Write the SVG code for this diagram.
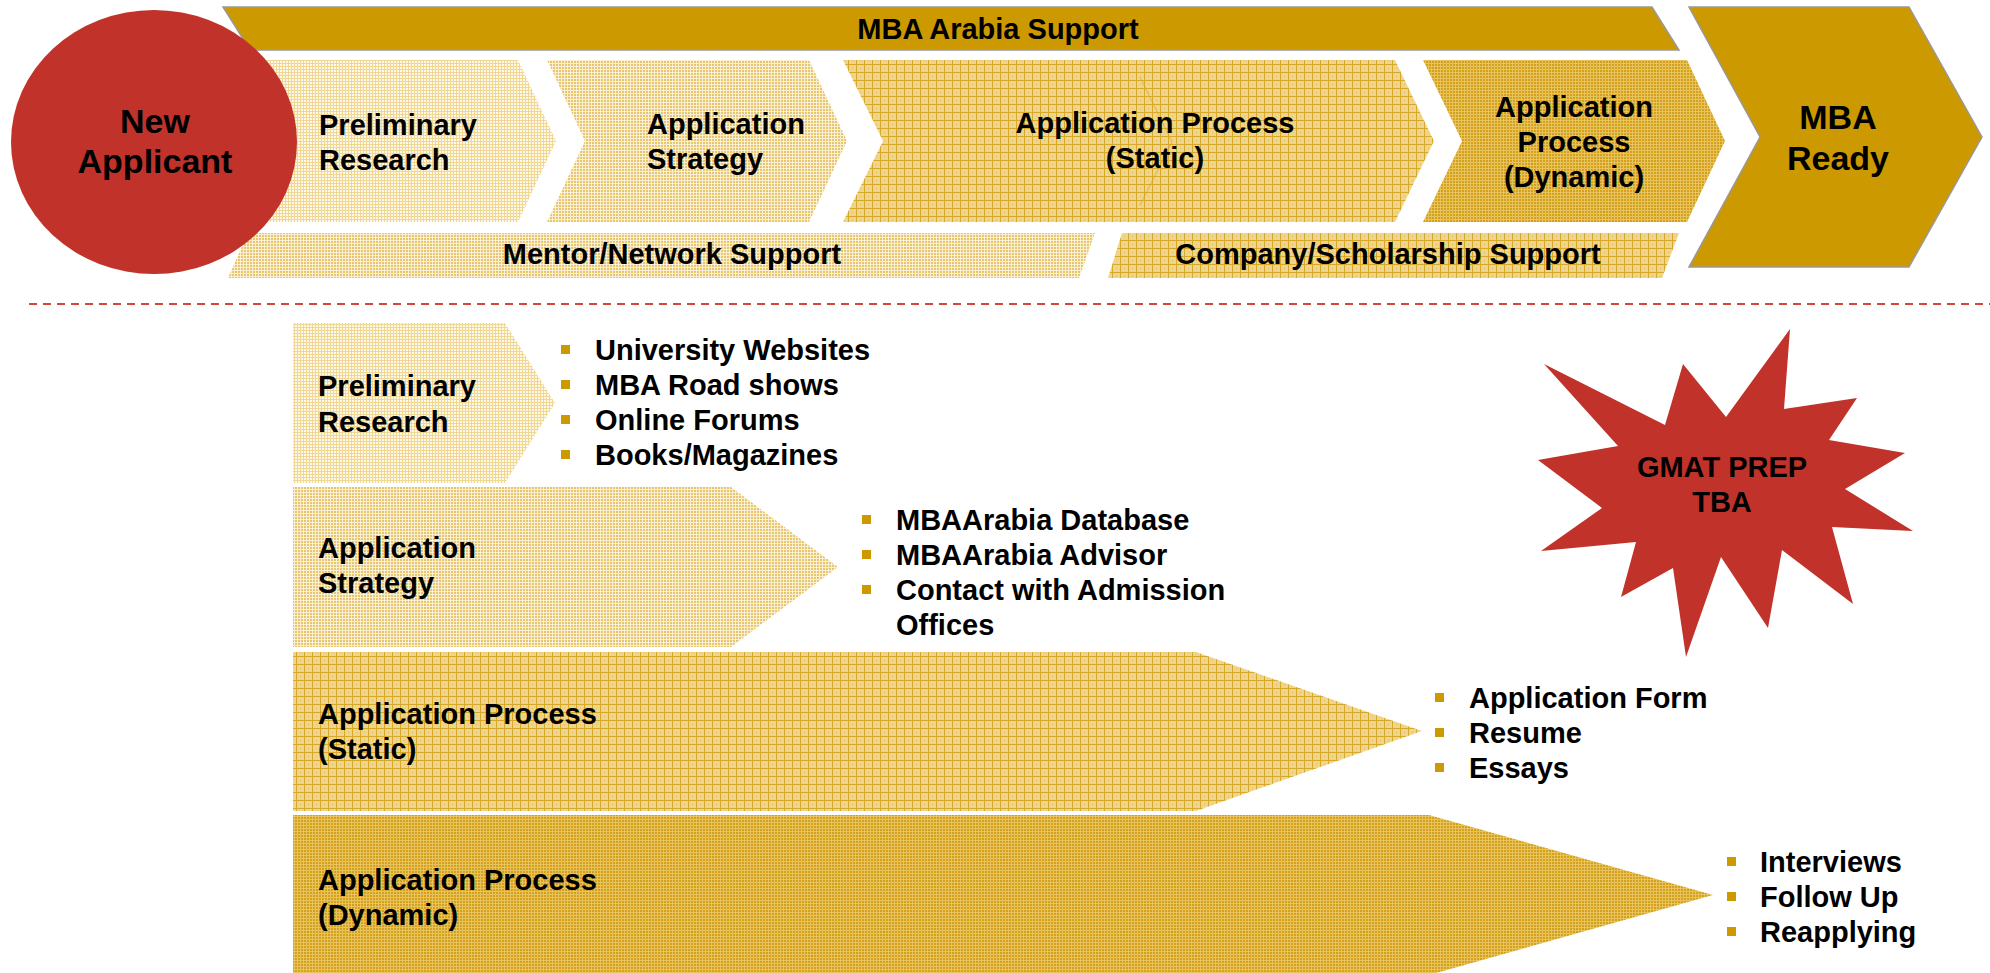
<svg xmlns="http://www.w3.org/2000/svg" width="1990" height="973" viewBox="0 0 1990 973">
  <defs>
    <pattern id="pPre" width="3" height="3" patternUnits="userSpaceOnUse">
      <rect width="3" height="3" fill="#FDF8EA"/>
      <rect width="1" height="3" fill="#F0D893"/>
      <rect width="3" height="1" fill="#F0D893"/>
    </pattern>
    <pattern id="pStr" width="3" height="3" patternUnits="userSpaceOnUse">
      <rect width="3" height="3" fill="#E6C66E"/>
      <rect width="1" height="3" fill="#FAEFD2"/>
      <rect width="3" height="1" fill="#FAEFD2"/>
    </pattern>
    <pattern id="pSta" width="8" height="8" patternUnits="userSpaceOnUse">
      <rect width="8" height="8" fill="#EDD590"/>
      <rect x="4" y="4" width="1" height="1" fill="#E2BF5C"/>
      <rect width="1" height="8" fill="#D8A928"/>
      <rect width="8" height="1" fill="#D8A928"/>
    </pattern>
    <pattern id="pDyn" width="3" height="3" patternUnits="userSpaceOnUse">
      <rect width="3" height="3" fill="#D5A11C"/>
      <rect width="1" height="3" fill="#E6C35C"/>
      <rect width="3" height="1" fill="#E6C35C"/>
    </pattern>
  </defs>
  <style>
    text { font-family: "Liberation Sans", Arial, sans-serif; font-weight: bold; fill: #000; }
    .t { font-size: 29px; }
    .big { font-size: 34px; }
    .mid { text-anchor: middle; }
    .gold { fill: #CC9900; stroke: #999999; stroke-width: 1.5; }
    .red { fill: #C1332A; }
    .bullet { fill: #CC9900; }
  </style>

  <rect width="1990" height="973" fill="#FFFFFF"/>

  <!-- Top row -->
  <g id="mba-arabia-support">
    <polygon class="gold" points="223,7 1652,7 1679,50 250,50"/>
    <text class="t mid" x="998" y="39">MBA Arabia Support</text>
  </g>

  <g id="top-preliminary-research">
    <polygon fill="url(#pPre)" points="240,60 518,60 556,141 518,222 240,222"/>
    <text class="t" x="319" y="135">Preliminary</text>
    <text class="t" x="319" y="170">Research</text>
  </g>

  <g id="top-application-strategy">
    <polygon fill="url(#pStr)" points="547,60 809,60 847,141 809,222 547,222 585,141"/>
    <text class="t" x="647" y="134">Application</text>
    <text class="t" x="647" y="169">Strategy</text>
  </g>

  <g id="top-application-static">
    <polygon fill="url(#pSta)" points="843,60 1395,60 1434,141 1395,222 843,222 883,141"/>
    <path d="M1140,77 L1172,142 L1140,205" fill="none" stroke="#D9A520" stroke-opacity="0.55" stroke-width="1.2"/>
    <text class="t mid" x="1155" y="133">Application Process</text>
    <text class="t mid" x="1155" y="168">(Static)</text>
  </g>

  <g id="top-application-dynamic">
    <polygon fill="url(#pDyn)" points="1423,60 1687,60 1725,141 1687,222 1423,222 1462,141"/>
    <text class="t mid" x="1574" y="117">Application</text>
    <text class="t mid" x="1574" y="152">Process</text>
    <text class="t mid" x="1574" y="187">(Dynamic)</text>
  </g>

  <g id="mba-ready">
    <polygon class="gold" points="1689,7 1909,7 1982,137 1909,267 1689,267 1760,137"/>
    <text class="big mid" x="1838" y="129">MBA</text>
    <text class="big mid" x="1838" y="170">Ready</text>
  </g>

  <g id="mentor-network-support">
    <polygon fill="url(#pStr)" points="248,233 1095,233 1079,278 228,278"/>
    <text class="t mid" x="672" y="264">Mentor/Network Support</text>
  </g>

  <g id="company-scholarship-support">
    <polygon fill="url(#pSta)" points="1122,233 1679,233 1662,278 1108,278"/>
    <text class="t mid" x="1388" y="264">Company/Scholarship Support</text>
  </g>

  <g id="new-applicant">
    <ellipse class="red" cx="154" cy="142" rx="143" ry="132"/>
    <text class="big mid" x="155" y="133">New</text>
    <text class="big mid" x="155" y="173">Applicant</text>
  </g>

  <!-- separator -->
  <g id="connectors">
    <line x1="29" y1="304" x2="1990" y2="304" stroke="#D0493B" stroke-width="2" stroke-dasharray="8 6"/>
  </g>

  <!-- Bottom detail -->
  <g id="preliminary-research">
    <polygon fill="url(#pPre)" points="293,323 505,323 555,403 505,483 293,483"/>
    <text class="t" x="318" y="396">Preliminary</text>
    <text class="t" x="318" y="432">Research</text>
    <rect class="bullet" x="561" y="345" width="9" height="9"/>
    <rect class="bullet" x="561" y="380" width="9" height="9"/>
    <rect class="bullet" x="561" y="415" width="9" height="9"/>
    <rect class="bullet" x="561" y="450" width="9" height="9"/>
    <text class="t" x="595" y="360">University Websites</text>
    <text class="t" x="595" y="395">MBA Road shows</text>
    <text class="t" x="595" y="430">Online Forums</text>
    <text class="t" x="595" y="465">Books/Magazines</text>
  </g>

  <g id="application-strategy">
    <polygon fill="url(#pStr)" points="293,487 731,487 838,567 731,647 293,647"/>
    <text class="t" x="318" y="558">Application</text>
    <text class="t" x="318" y="593">Strategy</text>
    <rect class="bullet" x="862" y="515" width="9" height="9"/>
    <rect class="bullet" x="862" y="550" width="9" height="9"/>
    <rect class="bullet" x="862" y="585" width="9" height="9"/>
    <text class="t" x="896" y="530">MBAArabia Database</text>
    <text class="t" x="896" y="565">MBAArabia Advisor</text>
    <text class="t" x="896" y="600">Contact with Admission</text>
    <text class="t" x="896" y="635">Offices</text>
  </g>

  <g id="application-process-static">
    <polygon fill="url(#pSta)" points="293,652 1196,652 1422,731 1196,811 293,811"/>
    <text class="t" x="318" y="724">Application Process</text>
    <text class="t" x="318" y="759">(Static)</text>
    <rect class="bullet" x="1435" y="693" width="9" height="9"/>
    <rect class="bullet" x="1435" y="728" width="9" height="9"/>
    <rect class="bullet" x="1435" y="763" width="9" height="9"/>
    <text class="t" x="1469" y="708">Application Form</text>
    <text class="t" x="1469" y="743">Resume</text>
    <text class="t" x="1469" y="778">Essays</text>
  </g>

  <g id="application-process-dynamic">
    <polygon fill="url(#pDyn)" points="293,815 1429,815 1713,895 1429,975 293,975"/>
    <text class="t" x="318" y="890">Application Process</text>
    <text class="t" x="318" y="925">(Dynamic)</text>
    <rect class="bullet" x="1727" y="857" width="9" height="9"/>
    <rect class="bullet" x="1727" y="892" width="9" height="9"/>
    <rect class="bullet" x="1727" y="927" width="9" height="9"/>
    <text class="t" x="1760" y="872">Interviews</text>
    <text class="t" x="1760" y="907">Follow Up</text>
    <text class="t" x="1760" y="942">Reapplying</text>
  </g>

  <g id="gmat-prep">
    <polygon class="red" points="1544,364 1665,425 1683,364 1726,417 1790,329 1784,409 1857,398 1829,440 1905,453 1845,489 1913,531 1832,527 1853,604 1782,550 1768,628 1721,557 1686,657 1673,568 1621,597 1636,542 1541,551 1602,508 1538,460 1618,446"/>
    <text class="t mid" x="1722" y="477">GMAT PREP</text>
    <text class="t mid" x="1722" y="512">TBA</text>
  </g>
</svg>
